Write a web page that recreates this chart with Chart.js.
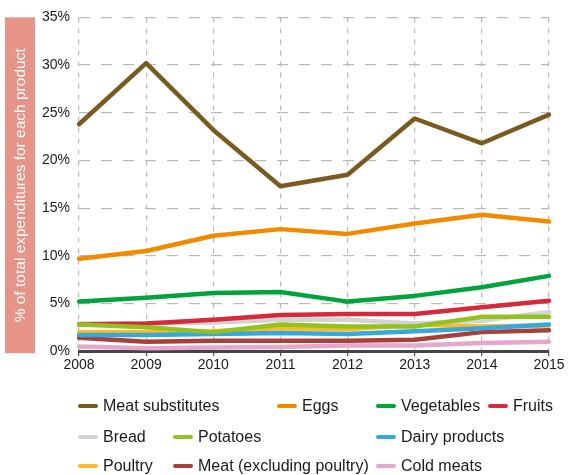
<!DOCTYPE html>
<html>
<head>
<meta charset="utf-8">
<script src="https://cdn.jsdelivr.net/npm/chart.js@4.4.0/dist/chart.umd.min.js"></script>
<style>
  html, body { margin: 0; padding: 0; background: #fff; }
  #wrap { position: relative; width: 573px; height: 475px; }
  #c { position: absolute; left: 0; top: 0; }
  #legend { position: absolute; left: 0; top: 0; width: 573px; height: 475px; pointer-events: none;
            font-family: "Liberation Sans", Arial, sans-serif; font-size: 16px; color: #1a1a1a; }
  .li { position: absolute; white-space: nowrap; line-height: 20px; }
  .li span.sw { position: absolute; left: 0; top: 8px; width: 20px; height: 4px; border-radius: 2px; }
  .li span.tx { position: absolute; left: 25px; top: 0; }
</style>
</head>
<body>
<div id="wrap">
  <canvas id="c" width="573" height="475"></canvas>
  <div id="legend"></div>
</div>
<script>
const years = ["2008", "2009", "2010", "2011", "2012", "2013", "2014", "2015"];

const meatSubstitutes = [23.8, 30.2, 23.2, 17.3, 18.5, 24.4, 21.8, 24.8];
const eggs            = [9.7, 10.5, 12.1, 12.8, 12.3, 13.4, 14.3, 13.6];
const vegetables      = [5.2, 5.6, 6.1, 6.2, 5.2, 5.8, 6.7, 7.9];
const fruits          = [2.8, 2.9, 3.3, 3.8, 3.9, 3.9, 4.6, 5.3];
const bread           = [2.9, 2.9, 3.0, 3.3, 3.3, 2.9, 3.2, 4.1];
const potatoes        = [2.8, 2.5, 2.0, 2.8, 2.6, 2.6, 3.6, 3.6];
const dairyProducts   = [1.7, 1.7, 1.8, 1.9, 1.8, 2.1, 2.4, 2.8];
const poultry         = [2.0, 2.0, 2.1, 2.4, 2.3, 2.8, 2.6, 2.7];
const meatExclPoultry = [1.4, 1.0, 1.1, 1.1, 1.1, 1.2, 2.0, 2.2];
const coldMeats       = [0.5, 0.3, 0.4, 0.45, 0.6, 0.6, 0.85, 1.0];

const seriesNames = ["Meat substitutes", "Eggs", "Vegetables", "Fruits", "Bread", "Potatoes",
                     "Dairy products", "Poultry", "Meat (excluding poultry)", "Cold meats"];
const yTicks = [0, 5, 10, 15, 20, 25, 30, 35];
const yTitle = "% of total expenditures for each product";

const seriesValues = [meatSubstitutes, eggs, vegetables, fruits, bread, potatoes,
                      dairyProducts, poultry, meatExclPoultry, coldMeats];
const colors = ["#7b5a20", "#f28a00", "#00a33c", "#d52a3a", "#d3d3d3", "#95c11f",
                "#35a8e0", "#fbbb22", "#a8403a", "#e5a7cb"];
// drawing order: lower = on top
const drawOrder = [0, 1, 2, 4, 6, 3, 7, 8, 9, 10];

const datasets = seriesNames.map((n, i) => ({
  label: n,
  data: seriesValues[i],
  borderColor: colors[i],
  backgroundColor: colors[i],
  borderWidth: 4.5,
  pointRadius: 0,
  pointHoverRadius: 0,
  tension: 0,
  fill: false,
  borderCapStyle: 'round',
  borderJoinStyle: 'round',
  order: drawOrder[i]
}));

const titleBox = {
  id: 'titleBox',
  beforeDraw(chart) {
    const ctx = chart.ctx;
    const a = chart.chartArea;
    ctx.save();
    ctx.fillStyle = '#e59487';
    ctx.fillRect(5, a.top, 30, a.bottom - a.top + 2);
    ctx.translate(21, (a.top + a.bottom) / 2 + 1);
    ctx.rotate(-Math.PI / 2);
    ctx.fillStyle = '#ffffff';
    ctx.font = '15.5px "Liberation Sans", Arial, sans-serif';
    ctx.textAlign = 'center';
    ctx.textBaseline = 'middle';
    ctx.fillText(yTitle, 0, 0);
    ctx.restore();
  }
};

const chart = new Chart(document.getElementById('c'), {
  type: 'line',
  data: { labels: years, datasets },
  options: {
    responsive: false,
    animation: false,
    layout: { padding: { left: 33, right: 24, top: 2, bottom: 100 } },
    plugins: { legend: { display: false }, tooltip: { enabled: false } },
    scales: {
      x: {
        offset: false,
        grid: { color: '#b9b9b9', lineWidth: 1.2, drawTicks: true, tickLength: 5, tickColor: '#555' },
        border: { display: true, color: '#444', width: 3, dash: [5, 6] },
        ticks: { color: '#1a1a1a', font: { family: '"Liberation Sans", Arial, sans-serif', size: 14 }, padding: 1, maxRotation: 0 }
      },
      y: {
        min: 0, max: 35,
        afterBuildTicks(scale) { scale.ticks = yTicks.map(v => ({ value: v })); },
        grid: { color: '#b9b9b9', lineWidth: 1.2, drawTicks: false },
        border: { display: false, dash: [11, 11] },
        ticks: { color: '#1a1a1a', font: { family: '"Liberation Sans", Arial, sans-serif', size: 14 }, padding: 9,
                 callback: v => v + '%' }
      }
    }
  },
  plugins: [titleBox]
});

// HTML legend built from the chart datasets
const legendPos = [
  [78, 396], [277, 396], [376, 396], [488, 396],
  [78, 427], [173, 427], [376, 427],
  [78, 456], [173, 456], [376, 456]
];
const legendOrder = [0, 1, 2, 3, 4, 5, 6, 7, 8, 9];
const lg = document.getElementById('legend');
legendOrder.forEach((di, k) => {
  const ds = chart.data.datasets[di];
  const el = document.createElement('div');
  el.className = 'li';
  el.style.left = legendPos[k][0] + 'px';
  el.style.top = legendPos[k][1] + 'px';
  const sw = document.createElement('span');
  sw.className = 'sw';
  sw.style.background = ds.borderColor;
  const tx = document.createElement('span');
  tx.className = 'tx';
  tx.textContent = ds.label;
  el.appendChild(sw); el.appendChild(tx);
  lg.appendChild(el);
});
</script>
</body>
</html>
